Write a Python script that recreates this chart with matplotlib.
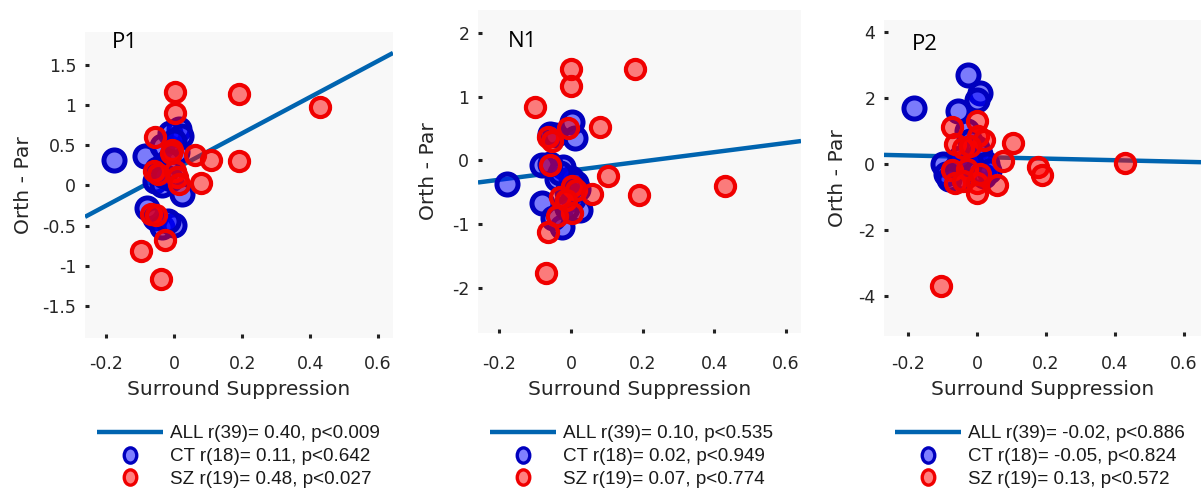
import matplotlib
matplotlib.use("Agg")
import matplotlib.pyplot as plt
from matplotlib.lines import Line2D
from matplotlib.path import Path
from matplotlib.transforms import Affine2D

# ---------------- data ----------------
panel_names = ["P1", "N1", "P2"]

p1_ct_x = [-0.178, -0.085, 0.013, -0.012, 0.020, -0.036, 0.008, -0.020, -0.050, -0.056,
           -0.036, -0.010, 0.023, -0.080, -0.056, -0.036, -0.002, -0.020, 0.000, -0.030]
p1_ct_y = [0.32, 0.36, 0.70, 0.65, 0.62, 0.49, 0.42, 0.30, 0.20, 0.05,
           0.00, 0.08, -0.11, -0.28, -0.40, -0.52, -0.49, -0.44, 0.55, 0.12]
p1_sz_x = [0.003, 0.190, 0.003, -0.058, -0.007, 0.060, 0.109, 0.190, 0.430, -0.060, -0.048,
           0.003, 0.008, 0.013, 0.080, -0.070, -0.055, -0.028, -0.097, -0.038, -0.010]
p1_sz_y = [1.16, 1.14, 0.90, 0.60, 0.44, 0.375, 0.32, 0.31, 0.98, 0.18, 0.14,
           0.18, 0.10, 0.02, 0.03, -0.36, -0.37, -0.68, -0.82, -1.17, 0.40]

p2_ct_x = [-0.180, 0.002, 0.011, -0.059, -0.045, -0.082, -0.022, -0.040, 0.000, 0.015,
           -0.082, 0.025, -0.026, -0.050, -0.010, -0.030, 0.005, -0.060, -0.010, 0.020]
p2_ct_y = [-0.37, 0.60, 0.35, 0.42, 0.40, -0.07, -0.10, -0.30, -0.28, -0.35,
           -0.67, -0.78, -1.04, -0.90, -0.50, -0.20, -0.60, -0.05, -0.75, -0.45]
p2_sz_x = [0.000, 0.179, 0.000, -0.100, -0.007, 0.081, -0.065, -0.054, -0.059, 0.104, 0.430,
           0.002, 0.015, 0.058, 0.190, -0.030, -0.015, 0.002, -0.040, -0.063, -0.071]
p2_sz_y = [1.43, 1.43, 1.17, 0.83, 0.50, 0.52, 0.37, 0.30, -0.07, -0.25, -0.40,
           -0.41, -0.47, -0.53, -0.55, -0.57, -0.62, -0.83, -0.87, -1.13, -1.77]

p3_ct_x = [-0.182, -0.025, 0.009, -0.001, -0.054, -0.030, -0.020, 0.000, 0.010, 0.030,
           -0.100, -0.090, -0.060, -0.040, 0.000, 0.020, -0.080, 0.035, -0.020, -0.050]
p3_ct_y = [1.70, 2.71, 2.15, 1.95, 1.62, 1.00, 0.70, 0.50, 0.30, 0.00,
           0.00, -0.30, -0.10, -0.40, -0.20, -0.35, -0.45, -0.20, 0.10, 0.20]
p3_sz_x = [-0.073, -0.001, 0.004, 0.020, -0.064, -0.040, -0.020, 0.104, 0.076, 0.178, 0.188,
           0.430, -0.073, -0.030, -0.064, -0.040, 0.000, 0.000, 0.057, -0.105, 0.010]
p3_sz_y = [1.12, 1.30, 0.86, 0.75, 0.62, 0.50, 0.55, 0.64, 0.10, -0.07, -0.32,
           0.05, -0.17, -0.15, -0.58, -0.50, -0.58, -0.88, -0.63, -3.69, -0.30]

# regression line of ALL subjects (slope, intercept) per panel
fit_slope = [2.25, 0.72, -0.24]
fit_intercept = [0.20, -0.16, 0.22]

x_ticks = [-0.2, 0, 0.2, 0.4, 0.6]
y_ticks = [[-1.5, -1, -0.5, 0, 0.5, 1, 1.5], [-2, -1, 0, 1, 2], [-4, -2, 0, 2, 4]]
x_lims = [(-0.263, 0.644), (-0.260, 0.643), (-0.270, 0.650)]
y_lims = [(-1.90, 1.91), (-2.71, 2.36), (-5.20, 4.37)]

legend_all = ["ALL r(39)= 0.40, p<0.009", "ALL r(39)= 0.10, p<0.535", "ALL r(39)= -0.02, p<0.886"]
legend_ct = ["CT r(18)= 0.11, p<0.642", "CT r(18)= 0.02, p<0.949", "CT r(18)= -0.05, p<0.824"]
legend_sz = ["SZ r(19)= 0.48, p<0.027", "SZ r(19)= 0.07, p<0.774", "SZ r(19)= 0.13, p<0.572"]

x_label = "Surround Suppression"
y_label = "Orth - Par"

ct_x = [p1_ct_x, p2_ct_x, p3_ct_x]
ct_y = [p1_ct_y, p2_ct_y, p3_ct_y]
sz_x = [p1_sz_x, p2_sz_x, p3_sz_x]
sz_y = [p1_sz_y, p2_sz_y, p3_sz_y]

# ---------------- styling / layout ----------------
plt.rcParams["font.family"] = ["DejaVu Sans"]
plt.rcParams["axes.unicode_minus"] = False

W, H = 1201, 492
fig = plt.figure(figsize=(W / 100, H / 100), dpi=100)

axes_px = [(85, 32, 393, 338), (478, 10, 801, 333), (884, 20, 1201, 336)]  # l, t, r, b
title_px = [(112, 48), (508, 47), (912, 50)]
legend_px = [(97, 425), (490, 425), (895, 425)]
ylabel_px = [33, 438, 847]

line_color = "#0064b0"
ct_face, ct_edge = (0, 0, 1, 0.5), "#0000be"
sz_face, sz_edge = (1, 0, 0, 0.5), "#f00000"
text_color = "#262626"

ellipse = Path.unit_circle().transformed(Affine2D().scale(0.82, 1.0))

for i in range(3):
    l, t, r, b = axes_px[i]
    ax = fig.add_axes([l / W, 1 - b / H, (r - l) / W, (b - t) / H])
    ax.set_facecolor("#f8f8f8")
    for s in ax.spines.values():
        s.set_visible(False)

    ax.axline((0, fit_intercept[i]), slope=fit_slope[i], color=line_color, lw=3.2,
              zorder=1, solid_capstyle="butt")
    ax.scatter(ct_x[i], ct_y[i], s=230, facecolors=[ct_face], edgecolors=ct_edge,
               linewidths=3.6, zorder=2)
    ax.scatter(sz_x[i], sz_y[i], s=190, facecolors=[sz_face], edgecolors=sz_edge,
               linewidths=3.0, zorder=3)

    ax.set_xlim(*x_lims[i])
    ax.set_ylim(*y_lims[i])
    ax.set_xticks(x_ticks)
    ax.set_xticklabels([f"{v:g}" for v in x_ticks])
    ax.set_yticks(y_ticks[i])
    ax.set_yticklabels([f"{v:g}" for v in y_ticks[i]])
    ax.tick_params(direction="in", length=2.6, width=2.2, color="#222222",
                   labelsize=12.5, labelcolor=text_color)
    ax.tick_params(axis="y", pad=6.3)
    ax.tick_params(axis="x", pad=(355 - b) * 0.72)

    ax.set_xlabel(x_label, fontsize=14.6, color=text_color)
    ax.xaxis.label.set_verticalalignment("baseline")
    ax.xaxis.set_label_coords(((l + r) / 2) / W, 1 - 395 / H, transform=fig.transFigure)
    ax.set_ylabel(y_label, fontsize=14.6, color=text_color)
    ax.yaxis.set_label_coords(ylabel_px[i] / W, 1 - ((t + b) / 2) / H, transform=fig.transFigure)

    tx, ty = title_px[i]
    fig.text(tx / W, 1 - ty / H, panel_names[i], fontsize=16, family=["Open Sans"],
             color="black", ha="left", va="baseline")

    handles = [
        Line2D([], [], color=line_color, lw=3.2, solid_capstyle="butt"),
        Line2D([], [], ls="none", marker=ellipse, markersize=11, markerfacecolor=ct_face,
               markeredgecolor=ct_edge, markeredgewidth=2.4),
        Line2D([], [], ls="none", marker=ellipse, markersize=11, markerfacecolor=sz_face,
               markeredgecolor=sz_edge, markeredgewidth=2.4),
    ]
    lx, ly = legend_px[i]
    fig.legend(handles, [legend_all[i], legend_ct[i], legend_sz[i]], loc="upper left",
               bbox_to_anchor=(lx / W, 1 - ly / H), bbox_transform=fig.transFigure,
               frameon=False, prop={"family": ["Liberation Sans"], "size": 13.6},
               labelcolor="#1a1a1a", handlelength=3.5, handletextpad=0.38,
               labelspacing=0.3, borderpad=0, borderaxespad=0)

fig.savefig("out.png", dpi=100)
